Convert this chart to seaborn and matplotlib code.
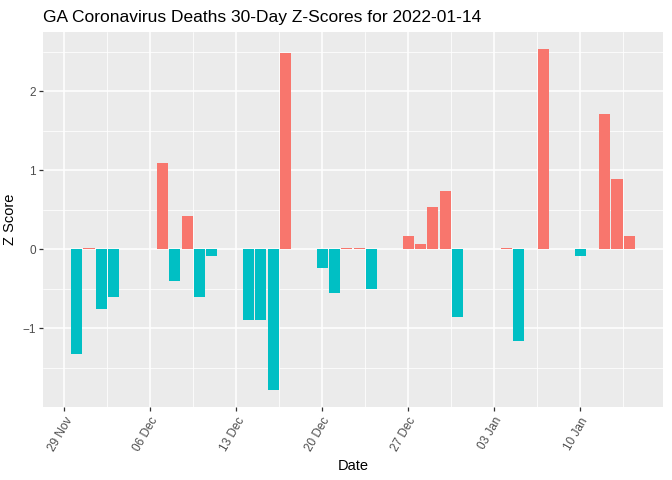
import pandas as pd
import numpy as np
import matplotlib
matplotlib.use('Agg')
import matplotlib.pyplot as plt
import matplotlib.dates as mdates
import seaborn as sns

# Dados: z-scores diarios de obitos (GA), janela de 30 dias ate 2022-01-14
datas = ['2021-11-30', '2021-12-01', '2021-12-02', '2021-12-03',
         '2021-12-07', '2021-12-08', '2021-12-09', '2021-12-10', '2021-12-11',
         '2021-12-14', '2021-12-15', '2021-12-16', '2021-12-17',
         '2021-12-20', '2021-12-21', '2021-12-22', '2021-12-23', '2021-12-24',
         '2021-12-27', '2021-12-28', '2021-12-29', '2021-12-30', '2021-12-31',
         '2022-01-04', '2022-01-05', '2022-01-07', '2022-01-10',
         '2022-01-12', '2022-01-13', '2022-01-14']
z_scores = [-1.32, 0.015, -0.75, -0.60,
            1.09, -0.40, 0.42, -0.60, -0.08,
            -0.90, -0.90, -1.78, 2.485,
            -0.233, -0.553, 0.015, 0.015, -0.50,
            0.168, 0.067, 0.535, 0.738, -0.857,
            0.015, -1.16, 2.535, -0.08,
            1.713, 0.89, 0.168]

cor_pos = '#F8766D'
cor_neg = '#00BFC4'

df = pd.DataFrame({'Date': pd.to_datetime(datas), 'Z': z_scores})
df['x'] = mdates.date2num(df['Date'])
df['sinal'] = np.where(df['Z'] >= 0, 'pos', 'neg')

# Estilo parecido com o tema cinza do ggplot
sns.set_theme(style='darkgrid', rc={
    'axes.facecolor': '#EBEBEB',
    'grid.color': 'white',
    'axes.edgecolor': '#EBEBEB',
    'xtick.color': '#333333',
    'ytick.color': '#333333',
    'xtick.bottom': True,
    'ytick.left': True,
})
plt.rcParams['font.family'] = ['Liberation Sans', 'DejaVu Sans']

fig, ax = plt.subplots(figsize=(6.72, 4.8), dpi=100)
fig.subplots_adjust(left=43 / 672, right=663 / 672, top=1 - 32 / 480, bottom=1 - 407 / 480)

sns.barplot(data=df, x='x', y='Z', hue='sinal', palette={'pos': cor_pos, 'neg': cor_neg},
            native_scale=True, width=0.9, dodge=False, legend=False, ax=ax,
            saturation=1, linewidth=0)

# Limites com expansao de 5% (como ggplot)
xmin, xmax = df['x'].min() - 0.45, df['x'].max() + 0.45
ymin, ymax = df['Z'].min(), df['Z'].max()
ax.set_xlim(xmin - 0.05 * (xmax - xmin), xmax + 0.05 * (xmax - xmin))
ax.set_ylim(ymin - 0.05 * (ymax - ymin), ymax + 0.05 * (ymax - ymin))

# Eixo x: semanas (segundas-feiras)
semanas = pd.date_range('2021-11-29', '2022-01-10', freq='7D')
ax.set_xticks(mdates.date2num(semanas))
ax.set_xticks(mdates.date2num(semanas) + 3.5, minor=True)
ax.xaxis.set_major_formatter(mdates.DateFormatter('%d %b'))
ax.set_yticks([-1, 0, 1, 2])
ax.set_yticks([-1.5, -0.5, 0.5, 1.5, 2.5], minor=True)

ax.grid(True, which='major', color='white', linewidth=1.1)
ax.grid(True, which='minor', color='white', linewidth=0.55)
ax.set_axisbelow(True)
for s in ax.spines.values():
    s.set_visible(False)

ax.tick_params(axis='both', which='major', length=3, width=0.9, color='#333333',
               labelsize=8.5, labelcolor='#4D4D4D', pad=2)
ax.tick_params(axis='x', which='major', pad=3)
ax.tick_params(axis='both', which='minor', length=0)
for lbl in ax.get_xticklabels():
    lbl.set_rotation(60)
    lbl.set_ha('right')
    lbl.set_va('top')
    lbl.set_rotation_mode('anchor')

ax.set_xlabel('Date', fontsize=10.5, color='black', labelpad=4)
ax.set_ylabel('Z Score', fontsize=10.5, color='black', labelpad=4)
ax.set_title('GA Coronavirus Deaths 30-Day Z-Scores for 2022-01-14', fontsize=12.5,
             loc='left', color='black', pad=7)

plt.savefig('out.png', dpi=100)
